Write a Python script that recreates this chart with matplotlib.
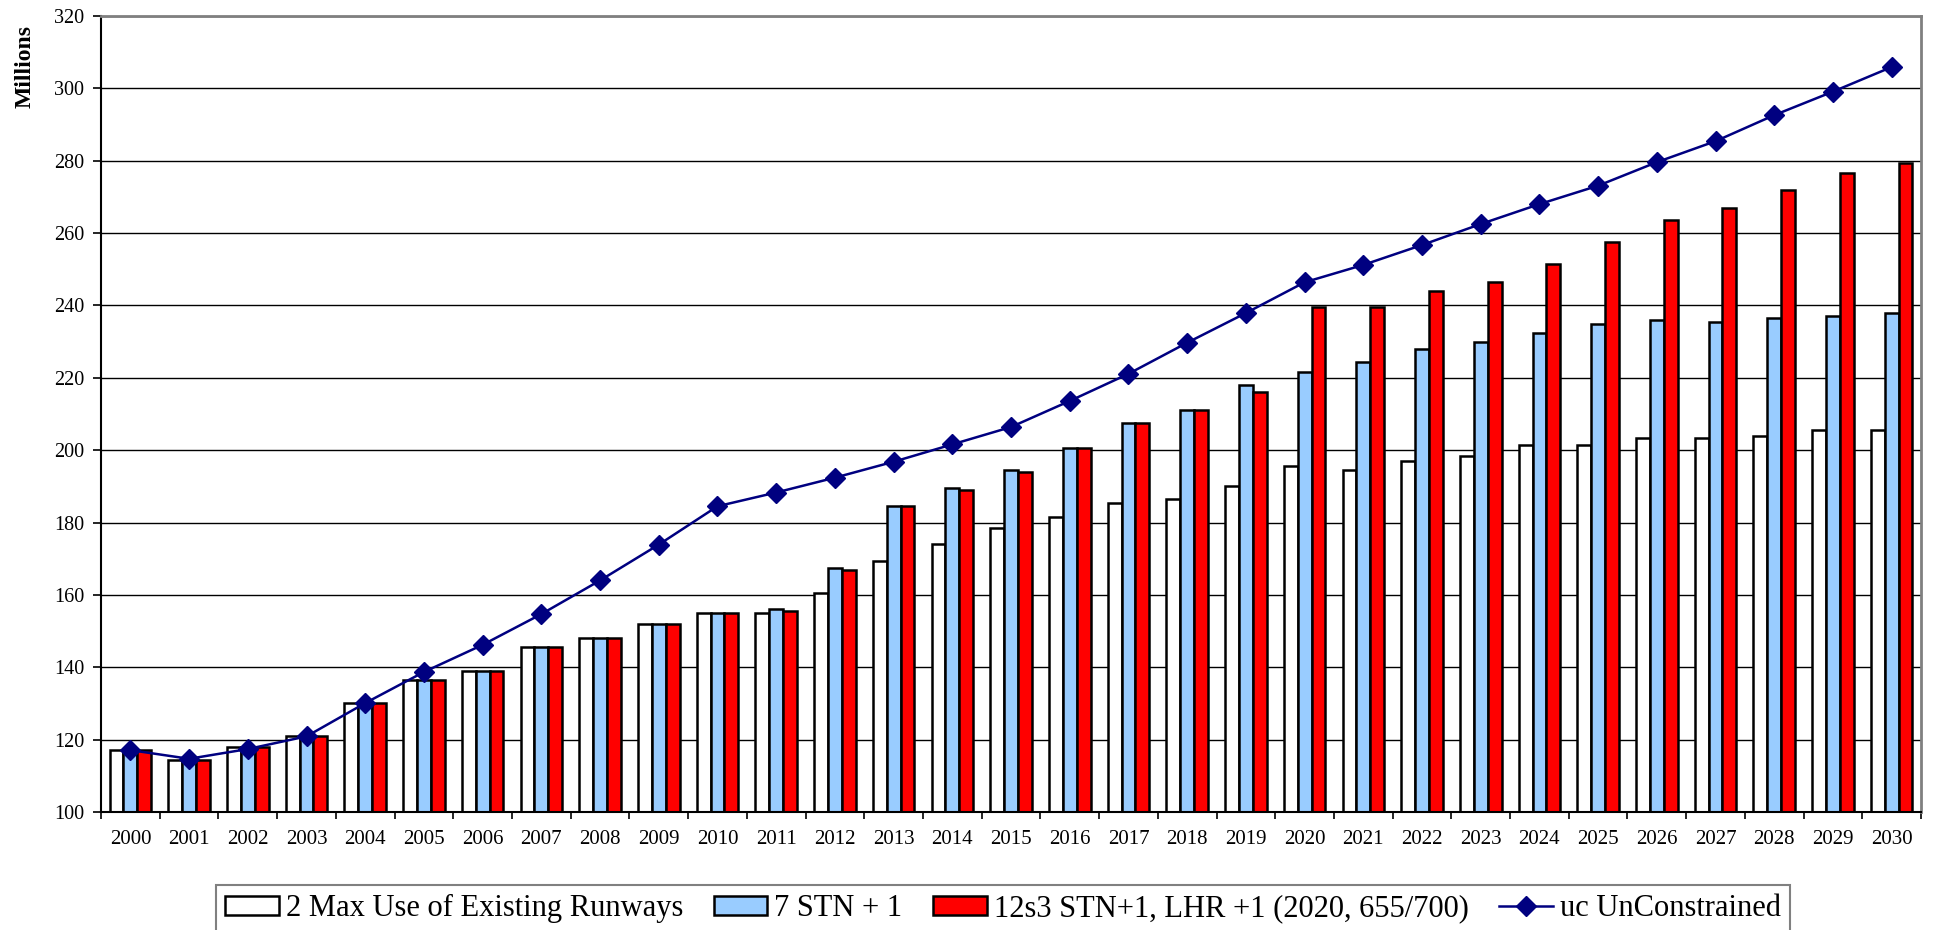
import numpy as np
from matplotlib import pyplot as plt

plt.rcParams['font.family'] = ['Liberation Serif', 'DejaVu Serif']

years = [str(y) for y in range(2000, 2031)]

max_use = [117, 114.5, 118, 121, 130, 136.5, 139, 145.5, 148, 152, 155, 155, 160.5,
           169.5, 174, 178.5, 181.5, 185.5, 186.5, 190, 195.5, 194.5, 197, 198.5,
           201.5, 201.5, 203.5, 203.5, 204, 205.5, 205.5]
stn = [117, 114.5, 118, 121, 130, 136.5, 139, 145.5, 148, 152, 155, 156, 167.5,
       184.5, 189.5, 194.5, 200.5, 207.5, 211, 218, 221.5, 224.5, 228, 230, 232.5,
       235, 236, 235.5, 236.5, 237, 238]
stn_lhr = [117, 114.5, 118, 121, 130, 136.5, 139, 145.5, 148, 152, 155, 155.5, 167,
           184.5, 189, 194, 200.5, 207.5, 211, 216, 239.5, 239.5, 244, 246.5, 251.5,
           257.5, 263.5, 267, 272, 276.5, 279.5]
unconstrained = [117.1, 114.7, 117.4, 120.9, 130.1, 138.7, 146.2, 154.7, 164, 173.9,
                 184.5, 188.3, 192.4, 196.8, 201.6, 206.4, 213.6, 221.1, 229.7, 237.9,
                 246.4, 251.2, 256.7, 262.5, 268, 273.1, 279.6, 285.4, 292.6, 299.1, 305.9]

labels = ["2 Max Use of Existing Runways", "7 STN + 1",
          "12s3 STN+1, LHR +1 (2020, 655/700)", "uc UnConstrained"]

fig = plt.figure(figsize=(19.43, 9.30), dpi=100)
ax = fig.add_axes([0.052, 0.1269, 0.9367, 0.8559])

x = np.arange(len(years))
w = 0.236
lw = 1.8
b1 = ax.bar(x - w, np.array(max_use) - 100, w, bottom=100, color="white",
            edgecolor="black", lw=lw, label=labels[0], zorder=2)
b2 = ax.bar(x, np.array(stn) - 100, w, bottom=100, color="#99CCFF",
            edgecolor="black", lw=lw, label=labels[1], zorder=2)
b3 = ax.bar(x + w, np.array(stn_lhr) - 100, w, bottom=100, color="#FF0000",
            edgecolor="black", lw=lw, label=labels[2], zorder=2)
ln, = ax.plot(x, unconstrained, color="#000080", lw=1.8, marker="D", ms=10,
              label=labels[3], zorder=3)

ax.set_xlim(-0.5, len(years) - 0.5)
ax.set_ylim(100, 320)
ax.set_yticks(np.arange(100, 321, 20))
ax.yaxis.grid(True, color="black", lw=1.0, zorder=0)
ax.set_axisbelow(True)

ax.set_xticks(x)
ax.set_xticklabels(years, fontsize=15)
ax.set_xticks(np.arange(-0.5, len(years), 1), minor=True)
ax.tick_params(axis="x", which="major", length=0, pad=13)
ax.tick_params(axis="x", which="minor", length=5, width=1.2, direction="out")
ax.tick_params(axis="y", labelsize=14.5, length=6, width=1.2, pad=6, direction="out")

for s in ["left", "bottom"]:
    ax.spines[s].set_color("black")
    ax.spines[s].set_linewidth(1.5)
for s in ["top", "right"]:
    ax.spines[s].set_color("#808080")
    ax.spines[s].set_linewidth(2)

fig.text(25 / 1943, 1 - 66 / 930, "Millions", rotation=90, fontsize=17,
         fontweight="bold", ha="center", va="center")

leg = fig.legend(handles=[b1, b2, b3, ln], labels=labels, ncol=4,
                 loc="upper center", bbox_to_anchor=(1003 / 1943, 1 - 885 / 930),
                 fontsize=22, frameon=True, fancybox=False, handlelength=1.76,
                 handleheight=0.55, handletextpad=0.23, columnspacing=1.0,
                 borderpad=0.3, borderaxespad=0)
leg.get_frame().set_edgecolor("#606060")
leg.get_frame().set_linewidth(1.5)

fig.savefig("out.png", dpi=100)
